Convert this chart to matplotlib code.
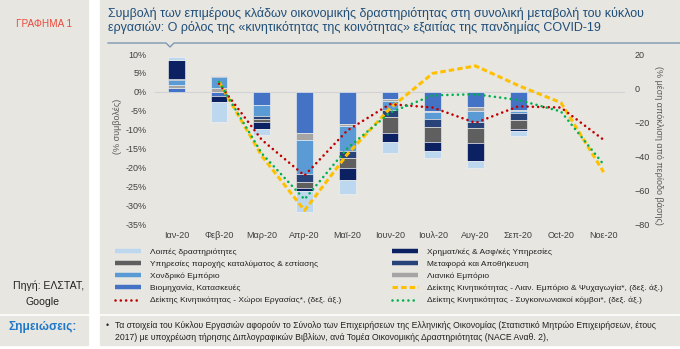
import numpy as np
import matplotlib as mpl

mpl.use('Agg')

import matplotlib.pyplot as plt
from matplotlib.patches import Rectangle
from matplotlib.lines import Line2D

plt.rcParams['font.family'] = ['Liberation Sans', 'DejaVu Sans']

# μήνες
months = ['Ιαν-20', 'Φεβ-20', 'Μαρ-20', 'Απρ-20', 'Μαϊ-20', 'Ιουν-20',
          'Ιουλ-20', 'Αυγ-20', 'Σεπ-20', 'Oct-20', 'Νοε-20']

# συμβολές κλάδων (%), με τη σειρά στοίβαξης από το μηδέν
industry = [1.1, -1.05, -3.4, -10.8, -8.5, -1.9, -5.0, -3.9, -4.8, np.nan, np.nan]
retail = [0.6, 1.1, -0.2, -2.0, -0.45, -0.45, -0.3, -1.15, -0.3, np.nan, np.nan]
wholesale = [1.5, 2.8, -2.9, -9.0, -6.6, -2.6, -1.9, -2.9, -0.5, np.nan, np.nan]
transport = [0.2, 0.4, -0.7, -2.2, -1.9, -1.6, -2.0, -1.75, -1.75, np.nan, np.nan]
accommodation = [0.1, 0.0, -0.9, -1.5, -2.6, -4.3, -4.0, -3.9, -2.4, np.nan, np.nan]
finance = [5.0, -1.6, -1.7, -0.7, -3.2, -2.5, -2.6, -4.7, -0.5, np.nan, np.nan]
other = [0.8, -5.3, -1.6, -5.7, -3.7, -2.9, -1.8, -1.9, -1.5, np.nan, np.nan]

# δείκτες κινητικότητας (δεξιός άξονας)
mob_retail = [np.nan, 3.5, -40, -72, -39, -12, 8.6, 13, 1.5, -8.6, -49.5]
mob_work = [np.nan, 2.5, -30.5, -51.5, -25, -9.5, -11.5, -20.5, -10.8, -11.5, -30.5]
mob_transit = [np.nan, 3.5, -38.5, -65.5, -35.5, -14.5, -4.3, -3.7, -7, -13.8, -45]

W, H = 680, 349
panel = '#e8e6e1'

fig = plt.figure(figsize=(6.8, 3.49), dpi=100)


def box(x0, y0, x1, y1, color):
    fig.patches.append(Rectangle((x0 / W, 1 - y1 / H), (x1 - x0) / W, (y1 - y0) / H,
                                 transform=fig.transFigure, color=color, zorder=-10))


def fx(x):
    return x / W


def fy(y):
    return 1 - y / H


box(0, 0, 88, 313, panel)
box(100, 0, 680, 313, panel)
box(0, 316, 88, 345, panel)
box(100, 316, 680, 345, panel)

# αριστερή στήλη
fig.text(fx(44), fy(24), 'ΓΡΑΦΗΜΑ 1', color='#e84c3d', fontsize=7.2, ha='center', va='center')
fig.text(fx(49), fy(286), 'Πηγή: ΕΛΣΤΑΤ,', color='#222222', fontsize=7.6, ha='center', va='center')
fig.text(fx(42), fy(302), 'Google', color='#222222', fontsize=7.6, ha='center', va='center')
fig.text(fx(43), fy(327), 'Σημειώσεις:', color='#1f78c8', fontsize=8.6, fontweight='bold',
         ha='center', va='center')

# τίτλος
title_col = '#1f4e79'
fig.text(fx(108), fy(14), 'Συμβολή των επιμέρους κλάδων οικονομικής δραστηριότητας στη συνολική μεταβολή του κύκλου',
         color=title_col, fontsize=9, va='center')
fig.text(fx(108), fy(28), 'εργασιών: Ο ρόλος της «κινητικότητας της κοινότητας» εξαιτίας της πανδημίας COVID-19',
         color=title_col, fontsize=9, va='center')
fig.add_artist(Line2D([fx(108), fx(166), fx(170), fx(174), fx(680)],
                      [fy(43), fy(43), fy(47), fy(43), fy(43)],
                      transform=fig.transFigure, color='#7f98b2', lw=1.0))

# σημειώσεις
fig.text(fx(106), fy(326), '•', fontsize=6.2, va='center', color='#222222')
fig.text(fx(115), fy(326), 'Τα στοιχεία του Κύκλου Εργασιών αφορούν το Σύνολο των Επιχειρήσεων της Ελληνικής '
         'Οικονομίας (Στατιστικό Μητρώο Επιχειρήσεων, έτους', fontsize=6.2, va='center', color='#222222')
fig.text(fx(115), fy(337), '2017) με υποχρέωση τήρησης Διπλογραφικών Βιβλίων, ανά Τομέα Οικονομικής '
         'Δραστηριότητας (NACE Αναθ. 2),', fontsize=6.2, va='center', color='#222222')

# γράφημα
ax = fig.add_axes([fx(155), fy(224), 470 / W, 170 / H])
ax.set_facecolor('none')
x = np.arange(len(months))

series = [
    (industry, '#4472c4', 'Βιομηχανία, Κατασκευές'),
    (retail, '#a5a5a5', 'Λιανικό Εμπόριο'),
    (wholesale, '#5b9bd5', 'Χονδρικό Εμπόριο'),
    (transport, '#27437a', 'Μεταφορά και Αποθήκευση'),
    (accommodation, '#5f5f5f', 'Υπηρεσίες παροχής καταλύματος & εστίασης'),
    (finance, '#0b2161', 'Χρηματ/κές & Ασφ/κές Υπηρεσίες'),
    (other, '#bdd7ee', 'Λοιπές δραστηριότητες'),
]

pos = np.zeros(len(months))
neg = np.zeros(len(months))
handles = {}
for vals, col, lab in series:
    v = np.array(vals, dtype=float)
    b = np.where(v >= 0, pos, neg)
    ax.bar(x, v, 0.39, bottom=b, color=col, edgecolor='#f4f4f4', linewidth=0.4, zorder=2)
    pos += np.where(v > 0, v, 0)
    neg += np.where(v < 0, v, 0)
    handles[lab] = Line2D([], [], color=col, lw=3.2, solid_capstyle='butt')

ax.axhline(0, color='#d2d2d2', lw=0.8, zorder=1)
ax.set_xlim(-0.5, len(months) - 0.5)
ax.set_ylim(-35, 10)
ax.set_yticks(range(-35, 11, 5))
ax.set_yticklabels([f'{t}%' for t in range(-35, 11, 5)])
ax.set_xticks(x)
ax.set_xticklabels(months)
ax.tick_params(axis='y', length=0, pad=6, labelsize=6.5, labelcolor='#404040')
ax.tick_params(axis='x', length=0, pad=5, labelsize=6.5, labelcolor='#404040')
for s in ax.spines.values():
    s.set_visible(False)

ax2 = ax.twinx()
ax2.set_ylim(-80, 20)
ax2.set_yticks(range(-80, 21, 20))
ax2.tick_params(axis='y', length=0, pad=7, labelsize=6.5, labelcolor='#404040')
for s in ax2.spines.values():
    s.set_visible(False)

l_ret, = ax2.plot(x, mob_retail, color='#ffc000', lw=2.2, ls=(0, (1.8, 1.0)),
                  label='Δείκτης Κινητικότητας - Λιαν. Εμπόριο & Ψυχαγωγία*, (δεξ. άξ.)')
l_work, = ax2.plot(x, mob_work, color='#c00000', lw=1.9, ls=(0, (0.01, 2.0)),
                   dash_capstyle='round', label='Δείκτης Κινητικότητας - Χώροι Εργασίας*, (δεξ. άξ.)')
l_tr, = ax2.plot(x, mob_transit, color='#00b050', lw=1.9, ls=(0, (0.01, 2.0)),
                 dash_capstyle='round', label='Δείκτης Κινητικότητας - Συγκοινωνιακοί κόμβοι*, (δεξ. άξ.)')

fig.text(fx(118), fy(126), '(% συμβολές)', rotation=90, fontsize=6.5, color='#595959',
         ha='center', va='center')
fig.text(fx(659), fy(145), '(% μέση απόκλιση από περίοδο βάσης)', rotation=270, fontsize=6.5,
         color='#595959', ha='center', va='center')

# υπόμνημα σε δύο στήλες
left_labs = ['Λοιπές δραστηριότητες', 'Υπηρεσίες παροχής καταλύματος & εστίασης',
             'Χονδρικό Εμπόριο', 'Βιομηχανία, Κατασκευές']
right_labs = ['Χρηματ/κές & Ασφ/κές Υπηρεσίες', 'Μεταφορά και Αποθήκευση', 'Λιανικό Εμπόριο']
h_left = [handles[k] for k in left_labs] + [l_work]
n_left = left_labs + [l_work.get_label()]
h_right = [handles[k] for k in right_labs] + [l_ret, l_tr]
n_right = right_labs + [l_ret.get_label(), l_tr.get_label()]

leg_kw = dict(loc='upper left', frameon=False, fontsize=6, handlelength=3.1, handletextpad=1.1,
              labelspacing=0.52, borderpad=0, borderaxespad=0, labelcolor='#222222')
fig.legend(h_left, n_left, bbox_to_anchor=(fx(115), fy(248)), **leg_kw)
fig.legend(h_right, n_right, bbox_to_anchor=(fx(392), fy(248)), **leg_kw)

fig.savefig('out.png', dpi=100)
